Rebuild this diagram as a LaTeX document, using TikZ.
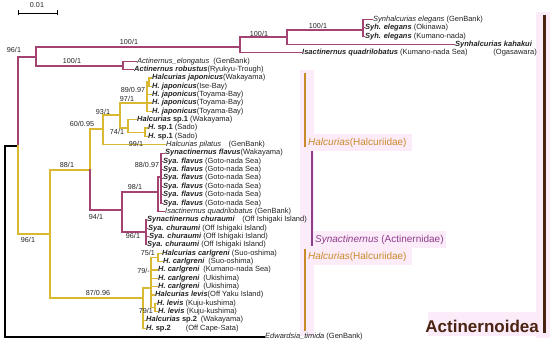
\documentclass[tikz,border=0pt]{standalone}
\usepackage{fontspec}
\setmainfont{Liberation Sans}
\definecolor{magc}{HTML}{A24372}
\definecolor{ylwc}{HTML}{D8B931}
\definecolor{orc}{HTML}{C98B2A}
\definecolor{puc}{HTML}{8E3C8C}
\definecolor{brc}{HTML}{4A2412}
\definecolor{txtc}{HTML}{222222}
\definecolor{pkc}{HTML}{FCEBF8}
\newcommand{\bi}[1]{\textbf{\textit{#1}}}
\begin{document}
\begin{tikzpicture}[x=1pt,y=-1pt,
  br/.style={line width=1.15pt,line cap=rect},
  mg/.style={br,draw=magc},
  yl/.style={br,draw=ylwc},
  bk/.style={br,draw=black},
  tip/.style={anchor=west,inner xsep=1pt,inner ysep=0pt,font=\fontsize{7.5}{8}\selectfont,text=txtc,text height=5.3pt,text depth=1.6pt},
  sv/.style={inner sep=0pt,font=\fontsize{7.2}{8}\selectfont,text=txtc},
  clab/.style={anchor=west,inner sep=0pt,font=\fontsize{10}{12}\selectfont},
  cbar/.style={line width=2.6pt},
  pk/.style={fill=pkc,draw=none}
  ]
\useasboundingbox (0,0) rectangle (550,344);
% faint highlight areas
\fill[pk] (300,70) rectangle (314,336);
\fill[pk] (536,12) rectangle (550,338);
\fill[pk] (306,134) rectangle (412,151);
\fill[pk] (313,231) rectangle (446,248);
\fill[pk] (306,248) rectangle (412,265);
\fill[pk] (428,312) rectangle (540,336);

% scale bar
\coordinate (sbl) at (18,13);
\coordinate (sbr) at (57,13);
\draw[line width=0.8pt] (sbl) -- (sbr);
\draw[line width=0.8pt] ([yshift=-2.5pt]sbl) -- ([yshift=2.5pt]sbl);
\draw[line width=0.8pt] ([yshift=-2.5pt]sbr) -- ([yshift=2.5pt]sbr);
\node[sv] (sbt) at (37,5.5) {0.01};

% internal nodes
\coordinate (R0) at (5,146);
\coordinate (Ing) at (18,146);
\coordinate (T1) at (36,57);
\coordinate (S1) at (240,47);
\coordinate (S2) at (287,37);
\coordinate (S3) at (363,30);
\coordinate (Act) at (123,66);
\coordinate (Y1) at (50,234);
\coordinate (N90) at (90,170);
\coordinate (N103) at (103,129);
\coordinate (N120) at (120,115);
\coordinate (N147) at (147,103);
\coordinate (N149) at (149,82);
\coordinate (N128) at (128,128);
\coordinate (N145) at (145,132.2);
\coordinate (N122) at (122,210);
\coordinate (N158) at (158,192);
\coordinate (N161) at (161,177);
\coordinate (Nch) at (146,232);
\coordinate (A) at (143,298);
\coordinate (E) at (151,288);
\coordinate (C) at (158,257.5);
\coordinate (D) at (155,307.6);

% tips
\node[tip] (t1) at (372,19.5) {\textit{Synhalcurias elegans} (GenBank)};
\node[tip] (t2) at (364,27.9) {\bi{Syh. elegans} (Okinawa)};
\node[tip] (t3) at (364,36.2) {\bi{Syh. elegans} (Kumano-nada)};
\node[tip] (t4) at (454,44.6) {\bi{Synhalcurias kahakui}};
\node[tip,anchor=east] (oga) at (538,53) {(Ogasawara)};
\node[tip] (t5) at (301,52.9) {\bi{Isactinernus quadrilobatus} (Kumano-nada Sea)};
\node[tip] (t6) at (136,61.3) {\textit{Actinernus\_elongatus}\ \ (GenBank)};
\node[tip] (t7) at (133,69.6) {\bi{Actinernus robustus}(Ryukyu-Trough)};
\node[tip] (t8) at (151,78) {\bi{Halcurias japonicus}(Wakayama)};
\node[tip] (t9) at (151,86.3) {\bi{H. japonicus}(Ise-Bay)};
\node[tip] (t10) at (151,94.7) {\bi{H. japonicus}(Toyama-Bay)};
\node[tip] (t11) at (151,103) {\bi{H. japonicus}(Toyama-Bay)};
\node[tip] (t12) at (151,111.4) {\bi{H. japonicus}(Toyama-Bay)};
\node[tip] (t13) at (136,119.7) {\bi{Halcurias} \textbf{sp.1} (Wakayama)};
\node[tip] (t14) at (147,128) {\bi{H.} \textbf{sp.1} (Sado)};
\node[tip] (t15) at (147,136.4) {\bi{H.} \textbf{sp.1} (Sado)};
\node[tip] (t16) at (165,144.7) {\textit{Halcurias pilatus}\quad(GenBank)};
\node[tip] (t17) at (164,153.1) {\bi{Synactinernus flavus}(Wakayama)};
\node[tip] (t18) at (162,161.4) {\bi{Sya. flavus} (Goto-nada Sea)};
\node[tip] (t19) at (162,169.8) {\bi{Sya. flavus} (Goto-nada Sea)};
\node[tip] (t20) at (162,178.1) {\bi{Sya. flavus} (Goto-nada Sea)};
\node[tip] (t21) at (162,186.5) {\bi{Sya. flavus} (Goto-nada Sea)};
\node[tip] (t22) at (162,194.8) {\bi{Sya. flavus} (Goto-nada Sea)};
\node[tip] (t23) at (162,203.2) {\bi{Sya. flavus} (Goto-nada Sea)};
\node[tip] (t24) at (164,211.5) {\textit{Isactinernus quadrilobatus} (GenBank)};
\node[tip] (t25) at (146,219.9) {\bi{Synactinernus churaumi}\quad(Off Ishigaki Island)};
\node[tip] (t26) at (147,228.2) {\bi{Sya. churaumi} (Off Ishigaki Island)};
\node[tip] (t27) at (148,236.6) {\bi{Sya. churaumi} (Off Ishigaki Island)};
\node[tip] (t28) at (146,244.9) {\bi{Sya. churaumi} (Off Ishigaki Island)};
\node[tip] (t29) at (161,253.3) {\bi{Halcurias carlgreni} (Suo-oshima)};
\node[tip] (t30) at (162,261.6) {\bi{H. carlgreni}\enspace(Suo-oshima)};
\node[tip] (t31) at (157,270) {\bi{H. carlgreni}\enspace(Kumano-nada Sea)};
\node[tip] (t32) at (157,278.3) {\bi{H. carlgreni}\enspace(Ukishima)};
\node[tip] (t33) at (157,286.7) {\bi{H. carlgreni}\enspace(Ukishima)};
\node[tip] (t34) at (154,295) {\bi{Halcurias levis}(Off Yaku Island)};
\node[tip] (t35) at (156,303.4) {\bi{H. levis} (Kuju-kushima)};
\node[tip] (t36) at (157,311.8) {\bi{H. levis} (Kuju-kushima)};
\node[tip] (t37) at (145,320.1) {\bi{Halcurias} \textbf{sp.2}\enspace(Wakayama)};
\node[tip] (t38) at (145,328.5) {\bi{H.} \textbf{sp.2}\qquad(Off Cape-Sata)};
\node[tip] (t39) at (264,337) {\textit{Edwardsia\_timida} (GenBank)};

% branches
\draw[bk] (R0) -- (Ing);
\draw[bk] (R0) |- (t39.west);
\draw[mg] (Ing) |- (T1);
\draw[yl] (Ing) |- (Y1);
\draw[mg] (T1) |- (S1);
\draw[mg] (T1) |- (Act);
\draw[mg] (S1) |- (S2);
\draw[mg] (S1) |- (t5.west);
\draw[mg] (S2) |- (S3);
\draw[mg] (S2) |- (t4.west);
\foreach \t in {t1,t2,t3} \draw[mg] (S3) |- (\t.west);
\foreach \t in {t6,t7} \draw[mg] (Act) |- (\t.west);
\draw[yl] (Y1) |- (N90);
\draw[yl] (Y1) |- (A);
\draw[yl] (N90) |- (N103);
\draw[mg] (N90) |- (N122);
\draw[yl] (N103) |- (N120);
\draw[yl] (N103) |- (t16.west);
\draw[yl] (N120) |- (N147);
\draw[yl] (N120) |- (N128);
\draw[yl] (N147) |- (N149);
\foreach \t in {t10,t11,t12} \draw[yl] (N147) |- (\t.west);
\foreach \t in {t8,t9} \draw[yl] (N149) |- (\t.west);
\draw[yl] (N128) |- (t13.west);
\draw[yl] (N128) |- (N145);
\foreach \t in {t14,t15} \draw[yl] (N145) |- (\t.west);
\draw[mg] (N122) |- (N158);
\draw[mg] (N122) |- (Nch);
\draw[mg] (N158) |- (N161);
\draw[mg] (N158) |- (t24.west);
\foreach \t in {t17,t18,t19,t20,t21,t22,t23} \draw[mg] (N161) |- (\t.west);
\foreach \t in {t25,t26,t27,t28} \draw[mg] (Nch) |- (\t.west);
\draw[yl] (A) |- (E);
\foreach \t in {t37,t38} \draw[yl] (A) |- (\t.west);
\draw[yl] (E) |- (C);
\draw[yl] (E) |- (D);
\foreach \t in {t31,t32,t33,t34} \draw[yl] (E) |- (\t.west);
\foreach \t in {t29,t30} \draw[yl] (C) |- (\t.west);
\foreach \t in {t35,t36} \draw[yl] (D) |- (\t.west);

% support values
\node[sv] (s1) at (14,50) {96/1};
\node[sv] (s2) at (129,42) {100/1};
\node[sv] (s3) at (72,61) {100/1};
\node[sv] (s4) at (259,33.5) {100/1};
\node[sv] (s5) at (318,26) {100/1};
\node[sv] (s6) at (133,90) {89/0.97};
\node[sv] (s7) at (127,98.5) {97/1};
\node[sv] (s8) at (103,111.5) {93/1};
\node[sv] (s9) at (82,124) {60/0.95};
\node[sv] (s10) at (117,132) {74/1};
\node[sv] (s11) at (136,144) {99/1};
\node[sv] (s12) at (67,165) {88/1};
\node[sv] (s13) at (147,165) {88/0.97};
\node[sv] (s14) at (135,187) {98/1};
\node[sv] (s15) at (96,217) {94/1};
\node[sv] (s16) at (133,236) {96/1};
\node[sv] (s17) at (28,240) {96/1};
\node[sv] (s18) at (98,293) {87/0.96};
\node[sv,anchor=east] (s19) at (155,253) {75/1};
\node[sv,anchor=east] (s20) at (150,271) {79/-};
\node[sv,anchor=east] (s21) at (153,311) {79/1};

% clade bars and labels
\draw[cbar,draw=orc] (305,73) -- (305,147);
\node[clab,text=orc] (hl1) at (308,143) {\textit{Halcurias}(Halcuriidae)};
\draw[cbar,draw=puc] (312,151) -- (312,246);
\node[clab,text=puc] (syl) at (315,240) {\textit{Synactinernus} (Actinernidae)};
\draw[cbar,draw=orc] (305,249) -- (305,331);
\node[clab,text=orc] (hl2) at (308,257) {\textit{Halcurias}(Halcuriidae)};
\draw[line width=3pt,draw=brc] (544,15) -- (544,333);
\node[anchor=east,inner sep=0pt,font=\fontsize{17}{19}\selectfont\bfseries,text=brc] (acl) at (539,326) {Actinernoidea};
\end{tikzpicture}
\end{document}
